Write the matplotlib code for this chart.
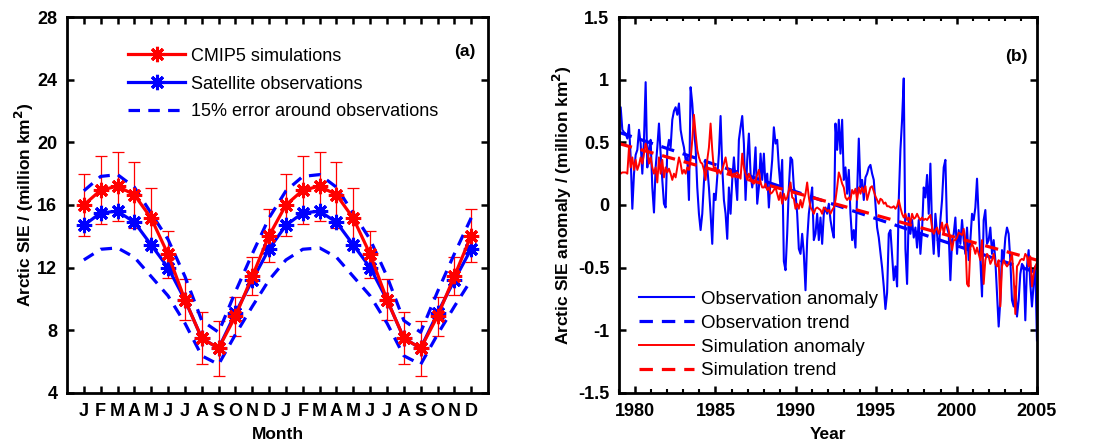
import numpy as np
import matplotlib
matplotlib.use("Agg")
import matplotlib.pyplot as plt
from matplotlib.lines import Line2D

plt.rcParams['font.family'] = ['Liberation Sans', 'DejaVu Sans']
plt.rcParams['font.weight'] = 'bold'
plt.rcParams['axes.labelweight'] = 'bold'

# ---- panel (a): seasonal cycle, shown twice ----
month_labels = ['J', 'F', 'M', 'A', 'M', 'J', 'J', 'A', 'S', 'O', 'N', 'D']
cmip5_sie = [16.0, 16.95, 17.2, 16.65, 15.15, 12.85, 9.95, 7.5, 6.85, 8.9, 11.45, 14.05]
cmip5_err = [2.0, 2.15, 2.2, 2.1, 1.95, 1.5, 1.3, 1.65, 1.75, 1.25, 1.2, 1.7]
obs_sie = [14.7, 15.5, 15.6, 14.9, 13.45, 12.0, 9.95, 7.5, 6.85, 9.1, 11.2, 13.2]
obs_error_frac = 0.15

# ---- panel (b): monthly anomalies 1979-2004 ----
obs_anom = [
    0.78, 0.78, 0.60, 0.58, 0.57, 0.53, 0.64, 0.38, -0.03, 0.25, 0.40, 0.44, 0.60, 0.49, 0.25, 0.52,
    0.98, 0.30, 0.45, 0.52, 0.14, -0.06, 0.30, 0.46, 0.65, 0.41, 0.20, 0.01, -0.02, 0.44, 0.52, 0.46,
    0.68, 0.75, 0.78, 0.72, 0.81, 0.60, 0.52, 0.46, 0.36, 0.38, 0.04, 0.94, 0.81, 0.60, 0.46, 0.14,
    -0.07, -0.20, -0.07, 0.18, 0.36, 0.30, 0.14, -0.07, -0.31, 0.09, 0.04, 0.22, 0.41, 0.71, 0.30, 0.04,
    -0.07, -0.27, 0.14, -0.07, 0.20, 0.38, 0.20, 0.04, 0.52, 0.62, 0.71, 0.49, 0.04, 0.36, 0.57, 0.25,
    0.14, 0.25, 0.46, 0.01, 0.14, 0.41, 0.20, 0.41, 0.14, 0.25, -0.02, 0.20, 0.36, 0.62, 0.49, 0.52,
    0.30, 0.14, 0.36, -0.45, -0.52, -0.23, 0.14, 0.38, 0.36, 0.14, 0.09, -0.07, -0.35, -0.39, -0.23, -0.39,
    -0.68, -0.28, -0.07, 0.04, 0.14, -0.28, -0.23, -0.07, -0.28, -0.10, -0.31, -0.07, -0.02, -0.07, 0.01, -0.12,
    -0.20, -0.26, 0.65, 0.44, 0.68, 0.41, 0.68, 0.20, 0.30, 0.09, 0.28, -0.07, -0.28, -0.20, -0.34, 0.09,
    0.53, 0.14, 0.20, 0.04, 0.22, 0.25, 0.30, 0.32, 0.25, 0.20, 0.01, -0.18, -0.26, -0.38, -0.50, -0.65,
    -0.83, -0.70, -0.23, -0.20, -0.40, -0.60, -0.49, -0.65, 0.04, 0.44, 0.68, 1.01, -0.35, -0.63, -0.07, -0.23,
    -0.12, -0.26, -0.18, -0.34, -0.12, -0.39, -0.20, 0.14, 0.06, 0.24, -0.07, 0.33, -0.18, -0.39, -0.07, -0.23,
    -0.41, -0.12, 0.04, 0.30, 0.36, -0.18, -0.23, -0.60, -0.28, -0.23, -0.10, -0.39, -0.20, -0.31, -0.12, -0.28,
    -0.39, -0.18, -0.44, -0.28, -0.07, -0.12, -0.02, 0.21, -0.10, -0.44, -0.73, -0.12, -0.04, -0.31, -0.28, -0.18,
    -0.39, -0.28, -0.44, -0.71, -0.97, -0.76, -0.36, -0.44, -0.26, -0.18, -0.23, -0.44, -0.76, -0.81, -0.65, -0.89,
    -0.76, -0.55, -0.47, -0.49, -0.92, -0.49, -0.36, -0.63, -0.81, -0.63, -0.49, -1.08,
]
sim_anom = [
    0.29, 0.25, 0.26, 0.26, 0.26, 0.25, 0.46, 0.30, 0.38, 0.28, 0.36, 0.28, 0.32, 0.38, 0.33, 0.41,
    0.49, 0.44, 0.33, 0.38, 0.30, 0.25, 0.30, 0.18, 0.38, 0.25, 0.36, 0.22, 0.30, 0.26, 0.29, 0.25,
    0.20, 0.25, 0.22, 0.30, 0.38, 0.33, 0.25, 0.28, 0.25, 0.30, 0.28, 0.36, 0.52, 0.72, 0.57, 0.44,
    0.38, 0.34, 0.33, 0.28, 0.20, 0.36, 0.46, 0.65, 0.44, 0.28, 0.30, 0.25, 0.28, 0.25, 0.28, 0.33,
    0.38, 0.30, 0.25, 0.28, 0.22, 0.25, 0.25, 0.26, 0.24, 0.21, 0.41, 0.30, 0.25, 0.20, 0.25, 0.22,
    0.18, 0.17, 0.20, 0.24, 0.28, 0.18, 0.14, 0.14, 0.17, 0.12, 0.14, 0.09, 0.10, 0.12, 0.14, 0.09,
    0.04, 0.10, 0.01, 0.09, 0.04, 0.06, 0.12, 0.18, 0.06, 0.05, -0.03, 0.01, -0.03, 0.04, -0.02, 0.04,
    0.09, 0.18, 0.06, -0.02, -0.04, -0.07, -0.03, -0.02, -0.03, -0.04, -0.07, -0.02, -0.03, -0.05, -0.04, -0.07,
    -0.04, -0.02, 0.04, 0.14, 0.26, 0.22, 0.17, 0.14, 0.06, 0.04, 0.06, 0.04, 0.12, 0.09, 0.13, 0.04,
    0.14, 0.09, 0.14, 0.10, 0.15, 0.04, 0.09, 0.14, 0.15, 0.11, 0.07, 0.04, 0.01, 0.05, 0.04, 0.01,
    0.02, -0.01, -0.01, -0.02, -0.02, -0.01, -0.03, -0.01, 0.04, -0.02, -0.07, -0.10, -0.07, -0.12, -0.10, -0.14,
    -0.07, -0.11, -0.10, -0.07, -0.10, -0.12, -0.10, -0.12, -0.11, -0.12, -0.10, -0.08, -0.18, -0.23, -0.20, -0.18,
    -0.23, -0.20, -0.14, -0.23, -0.16, -0.15, -0.20, -0.28, -0.36, -0.28, -0.28, -0.26, -0.22, -0.23, -0.24, -0.19,
    -0.28, -0.63, -0.65, -0.34, -0.31, -0.34, -0.39, -0.34, -0.39, -0.44, -0.28, -0.63, -0.44, -0.39, -0.41, -0.47,
    -0.44, -0.39, -0.47, -0.49, -0.44, -0.81, -0.49, -0.44, -0.47, -0.49, -0.47, -0.44, -0.39, -0.57, -0.87, -0.49,
    -0.47, -0.44, -0.43, -0.44, -0.39, -0.41, -0.49, -0.41, -0.65, -0.55, -0.49, -0.46,
]
trend_years = [1979, 2005]
obs_trend = [0.58, -0.54]
sim_trend = [0.49, -0.44]
year_ticks = [1980, 1985, 1990, 1995, 2000, 2005]
anom_ticks = [-1.5, -1, -0.5, 0, 0.5, 1, 1.5]
anom_tick_labels = ['-1.5', '-1', '-0.5', '0', '0.5', '1', '1.5']

fig = plt.figure(figsize=(10.95, 4.43), dpi=100)
ax1 = fig.add_axes([0.0612, 0.1129, 0.3845, 0.8487])
ax2 = fig.add_axes([0.5653, 0.1129, 0.3817, 0.8487])

# panel (a)
x = np.arange(1, 25)
sim2 = np.tile(cmip5_sie, 2)
err2 = np.tile(cmip5_err, 2)
obs2 = np.tile(obs_sie, 2)
star = (8, 2, 0)
mk = dict(marker=star, ms=11, mew=2.2)

ax1.errorbar(x, sim2, yerr=err2, fmt='none', ecolor='red', elinewidth=0.9,
             capsize=4, capthick=0.9, zorder=2)
ax1.plot(x, obs2 * (1 + obs_error_frac), color='blue', lw=2.3, dashes=[3.6, 2.6], zorder=3)
ax1.plot(x, obs2 * (1 - obs_error_frac), color='blue', lw=2.3, dashes=[3.6, 2.6], zorder=3)
ax1.plot(x, obs2, color='blue', lw=2.3, zorder=4, **mk)
ax1.plot(x, sim2, color='red', lw=2.3, zorder=5, **mk)

h_sim = Line2D([], [], color='red', lw=2.3, **mk)
h_obs = Line2D([], [], color='blue', lw=2.3, **mk)
h_err = Line2D([], [], color='blue', lw=2.3, dashes=[3.6, 2.6])
ax1.legend([h_sim, h_obs, h_err],
           ['CMIP5 simulations', 'Satellite observations', '15% error around observations'],
           loc='upper left', bbox_to_anchor=(0.128, 0.9375), frameon=False,
           prop={'size': 13, 'weight': 'normal'}, handlelength=3.15, handletextpad=0.33,
           labelspacing=0.6, borderaxespad=0.0)

ax1.set_xlim(0, 25)
ax1.set_ylim(4, 28)
ax1.set_xticks(x)
ax1.set_xticklabels(month_labels * 2)
ax1.set_yticks(np.arange(4, 29, 4))
ax1.set_xlabel('Month', fontsize=12.5, labelpad=5)
ax1.set_ylabel('Arctic SIE / (million km$^\\mathbf{2}$)', fontsize=12.5, labelpad=0.5)
ax1.text(0.945, 0.907, '(a)', transform=ax1.transAxes, ha='center', va='center',
         fontsize=12.5, fontweight='bold')

# panel (b)
years_o = np.linspace(1979, 2005, len(obs_anom))
years_s = np.linspace(1979, 2005, len(sim_anom))
ax2.plot(years_o, obs_anom, color='blue', lw=1.5, label='Observation anomaly')
ax2.plot(trend_years, obs_trend, color='blue', lw=2.3, dashes=[4.2, 2.8], label='Observation trend')
ax2.plot(years_s, sim_anom, color='red', lw=1.4, label='Simulation anomaly')
ax2.plot(trend_years, sim_trend, color='red', lw=2.3, dashes=[4.2, 2.8], label='Simulation trend')
ax2.legend(loc='upper left', bbox_to_anchor=(0.03, 0.292), frameon=False,
           prop={'size': 13.5, 'weight': 'normal'}, handlelength=2.93, handletextpad=0.37,
           labelspacing=0.36, borderaxespad=0.0)

ax2.set_xlim(1979, 2005)
ax2.set_ylim(-1.5, 1.5)
ax2.set_xticks(year_ticks)
ax2.set_xticks(np.arange(1979, 2006), minor=True)
ax2.set_yticks(anom_ticks)
ax2.set_yticklabels(anom_tick_labels)
ax2.set_xlabel('Year', fontsize=12.5, labelpad=5)
ax2.set_ylabel('Arctic SIE anomaly / (million km$^\\mathbf{2}$)', fontsize=12.5, labelpad=3)
ax2.text(0.95, 0.894, '(b)', transform=ax2.transAxes, ha='center', va='center',
         fontsize=12.5, fontweight='bold')

for ax in (ax1, ax2):
    for s in ax.spines.values():
        s.set_linewidth(2.0)
    ax.tick_params(which='major', direction='in', length=5, width=1.8, top=True, right=True,
                   labelsize=13, pad=7)
    ax.tick_params(which='minor', direction='in', length=3, width=1.5, top=True, right=True)

fig.savefig('out.png', dpi=100)
